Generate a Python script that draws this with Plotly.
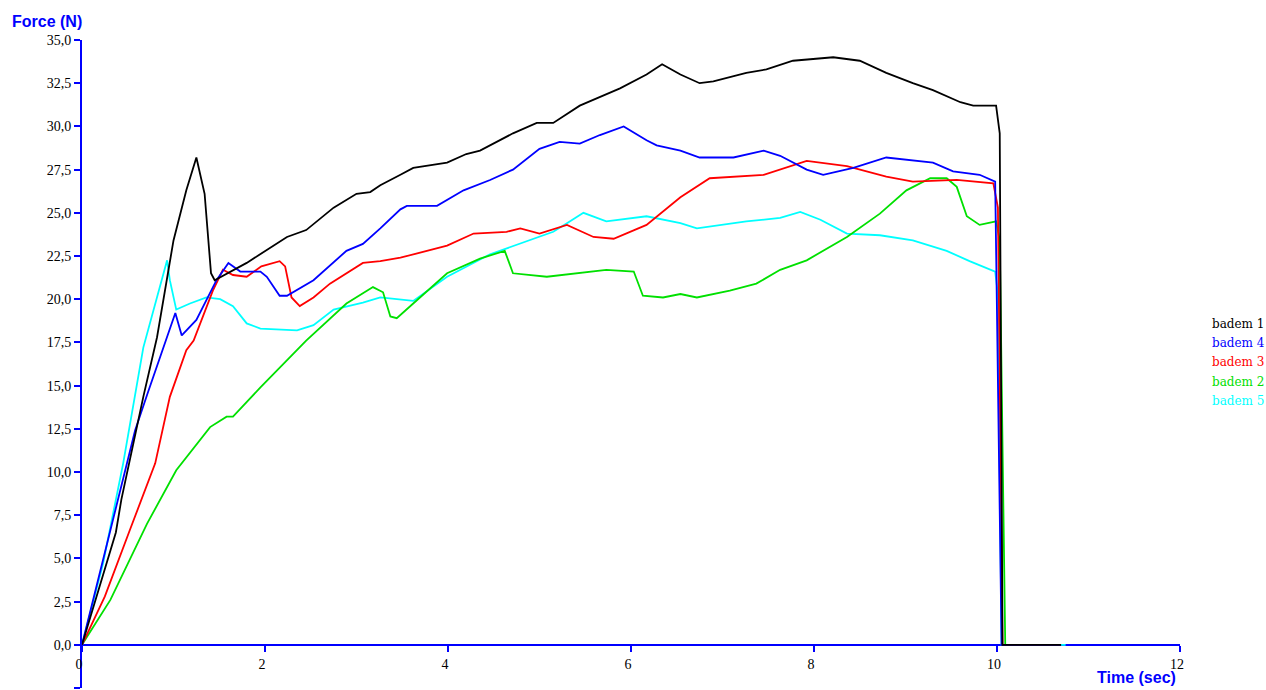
import plotly.graph_objects as go

# badem 1 (black)
t_b1 = [0, 0.37, 0.43, 0.67, 0.82, 1.0, 1.14, 1.25, 1.34, 1.37, 1.41, 1.45, 1.80, 2.24, 2.45, 2.75,
        3.0, 3.15, 3.26, 3.48, 3.62, 3.99, 4.20, 4.35, 4.71, 4.97, 5.15, 5.44, 5.88, 6.17, 6.34,
        6.54, 6.75, 6.9, 7.26, 7.48, 7.77, 8.21, 8.50, 8.79, 9.08, 9.30, 9.6, 9.74, 9.99, 10.03,
        10.06, 10.7]
f_b1 = [0, 6.5, 8.4, 14.35, 17.8, 23.4, 26.3, 28.2, 26.1, 24.0, 21.5, 21.1, 22.1, 23.6, 24.0, 25.3,
        26.1, 26.2, 26.6, 27.2, 27.6, 27.9, 28.4, 28.6, 29.6, 30.2, 30.2, 31.2, 32.2, 33.0, 33.6,
        33.0, 32.5, 32.6, 33.1, 33.3, 33.8, 34.0, 33.8, 33.1, 32.5, 32.1, 31.4, 31.2, 31.2, 29.6,
        0, 0]

# badem 4 (blue)
t_b4 = [0, 0.39, 0.58, 0.72, 0.93, 1.02, 1.09, 1.25, 1.47, 1.60, 1.73, 1.95, 2.02, 2.16,
        2.24, 2.53, 2.89, 3.07, 3.26, 3.48, 3.55, 3.88, 4.17, 4.46, 4.71, 5.0, 5.22, 5.44, 5.66,
        5.92, 6.17, 6.28, 6.54, 6.75, 6.9, 7.12, 7.45, 7.63, 7.92, 8.10, 8.43, 8.79, 9.30, 9.52,
        9.81, 9.98, 10.05, 10.7]
f_b4 = [0, 8.4, 12.4, 14.6, 17.8, 19.2, 17.9, 18.8, 21.1, 22.1, 21.6, 21.6, 21.3, 20.2,
        20.2, 21.1, 22.8, 23.2, 24.1, 25.2, 25.4, 25.4, 26.3, 26.9, 27.5, 28.7, 29.1, 29.0, 29.5,
        30.0, 29.2, 28.9, 28.6, 28.2, 28.2, 28.2, 28.6, 28.3, 27.5, 27.2, 27.6, 28.2, 27.9, 27.4,
        27.2, 26.8, 0, 0]

# badem 3 (red)
t_b3 = [0, 0.25, 0.52, 0.80, 0.96, 1.14, 1.22, 1.43, 1.54, 1.65, 1.80, 1.96, 2.16, 2.22, 2.29,
        2.38, 2.53, 2.71, 3.07, 3.26, 3.48, 3.99, 4.28, 4.64, 4.79, 5.0, 5.30, 5.59, 5.81, 6.17,
        6.54, 6.86, 7.45, 7.92, 8.36, 8.79, 9.08, 9.56, 9.96, 10.01, 10.06, 10.7]
f_b3 = [0, 2.8, 6.6, 10.5, 14.35, 17.05, 17.6, 20.5, 21.7, 21.4, 21.3, 21.9, 22.2, 21.9, 20.1,
        19.6, 20.1, 20.9, 22.1, 22.2, 22.4, 23.1, 23.8, 23.9, 24.1, 23.8, 24.3, 23.6, 23.5, 24.3,
        25.9, 27.0, 27.2, 28.0, 27.7, 27.1, 26.8, 26.9, 26.7, 25.3, 0, 0]

# badem 2 (green)
t_b2 = [0, 0.31, 0.71, 1.03, 1.40, 1.58, 1.65, 1.95, 2.45, 2.89, 3.18, 3.29, 3.37, 3.44, 3.62,
        3.99, 4.35, 4.62, 4.71, 5.08, 5.73, 6.03, 6.13, 6.35, 6.54, 6.72, 7.08, 7.37, 7.63, 7.92,
        8.36, 8.72, 9.01, 9.27, 9.45, 9.56, 9.67, 9.81, 9.99, 10.03, 10.09, 10.7]
f_b2 = [0, 2.6, 7.0, 10.1, 12.6, 13.2, 13.2, 14.9, 17.6, 19.75, 20.7, 20.4, 19.0, 18.9, 19.75,
        21.5, 22.35, 22.8, 21.5, 21.3, 21.7, 21.6, 20.2, 20.1, 20.3, 20.1, 20.5, 20.9, 21.7, 22.25,
        23.6, 24.95, 26.3, 27.0, 27.0, 26.5, 24.8, 24.3, 24.5, 23.4, 0, 0]

# badem 5 (cyan)
t_b5 = [0, 0.23, 0.45, 0.67, 0.93, 0.96, 1.03, 1.18, 1.36, 1.51, 1.65, 1.80, 1.95, 2.35, 2.53,
        2.75, 3.07, 3.26, 3.62, 3.99, 4.46, 4.90, 5.15, 5.30, 5.48, 5.73, 6.17, 6.54, 6.72, 7.26,
        7.63, 7.85, 8.07, 8.36, 8.72, 9.08, 9.45, 9.70, 9.98, 10.01, 10.05, 10.75]
f_b5 = [0, 4.7, 10.5, 17.2, 22.25, 21.1, 19.4, 19.75, 20.1, 20.0, 19.6, 18.6, 18.3, 18.2, 18.5,
        19.4, 19.8, 20.1, 19.9, 21.3, 22.6, 23.4, 23.9, 24.4, 25.0, 24.5, 24.8, 24.4, 24.1, 24.5,
        24.7, 25.05, 24.6, 23.8, 23.7, 23.4, 22.8, 22.2, 21.6, 20.3, 0, 0]

names = ["badem 1", "badem 4", "badem 3", "badem 2", "badem 5"]
colors = ["#000000", "#0000ff", "#ff0000", "#00e000", "#00ffff"]
series = [(t_b1, f_b1), (t_b4, f_b4), (t_b3, f_b3), (t_b2, f_b2), (t_b5, f_b5)]

fig = go.Figure()
# draw back to front so the black curve sits on top like the original
for (t, f), name, col in reversed(list(zip(series, names, colors))):
    fig.add_trace(go.Scatter(x=t, y=f, mode="lines", name=name,
                             line=dict(color=col, width=1.8), showlegend=False))

axis_blue = "#0000ff"
fig.update_layout(
    width=1266, height=690,
    margin=dict(l=82, r=86, t=40, b=2),
    plot_bgcolor="white", paper_bgcolor="white",
    separators=",.",
    font=dict(family="Liberation Serif", size=14, color="black"),
    xaxis=dict(range=[0, 12], dtick=2, tick0=0, showgrid=False, zeroline=False,
               showline=True, linecolor=axis_blue, linewidth=2,
               ticks="outside", ticklen=6, tickcolor=axis_blue, tickwidth=2,
               ticklabelshift=-3, layer="below traces", automargin=False,
               anchor="free", position=2.5 / 37.5),
    yaxis=dict(range=[-2.5, 35], dtick=2.5, tick0=0, tickformat=".1f",
               showgrid=False, zeroline=False,
               showline=True, linecolor=axis_blue, linewidth=2,
               ticks="outside", ticklen=6, tickcolor=axis_blue, tickwidth=2,
               layer="below traces", automargin=False),
)

title_font = dict(family="Liberation Sans", size=16, color=axis_blue)
fig.add_annotation(text="<b>Force (N)</b>", xref="paper", yref="paper",
                   x=-0.066, y=1.028, xanchor="left", yanchor="middle",
                   showarrow=False, font=title_font)
fig.add_annotation(text="<b>Time (sec)</b>", xref="paper", yref="paper",
                   x=0.998, y=0.016, xanchor="right", yanchor="middle",
                   showarrow=False, font=title_font)

# legend as plain coloured text, no symbols
for i, (name, col) in enumerate(zip(names, colors)):
    ypix = 324 + i * 19.2
    fig.add_annotation(text=name, xref="paper", yref="paper",
                       x=(1210 - 82) / 1098, y=(688 - ypix) / 648,
                       xanchor="left", yanchor="middle", showarrow=False,
                       font=dict(family="DejaVu Serif", size=12, color=col))

# drop the default body margin so the figure fills the window exactly
fig.write_html("out.html", config={"displayModeBar": False},
               post_script="document.body.style.margin='0';document.body.style.overflow='hidden';")
